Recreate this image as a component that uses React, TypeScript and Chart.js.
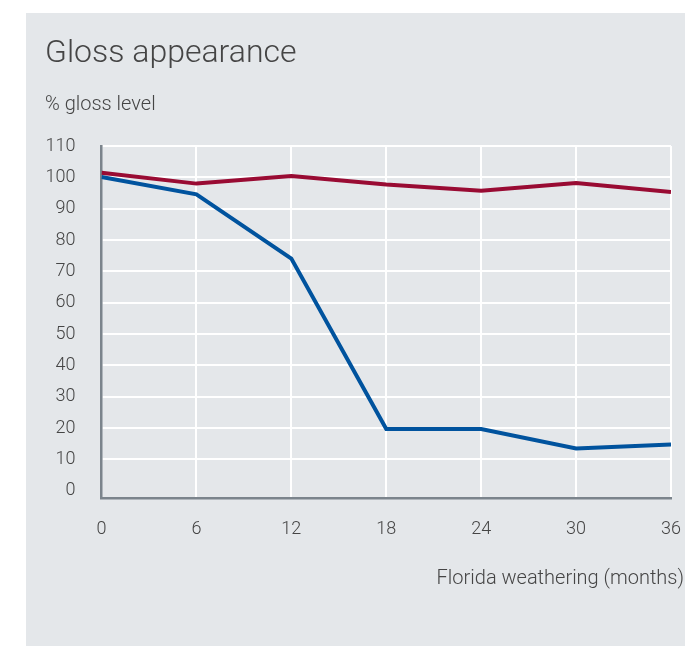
import React, { useEffect, useRef } from "react";
import { Chart, registerables } from "chart.js";

Chart.register(...registerables);

const months = [0, 6, 12, 18, 24, 30, 36];
const redSeries = [101.5, 98, 100.4, 97.7, 95.7, 98.2, 95.3];
const blueSeries = [100.1, 94.6, 74.1, 19.7, 19.7, 13.5, 14.8];
const yTicks = [0, 10, 20, 30, 40, 50, 60, 70, 80, 90, 100, 110];
const titleText = "Gloss appearance";
const yTitleText = "% gloss level";
const xTitleText = "Florida weathering (months)";

const FONT = "Roboto";
const TEXT = "#454545";

const textPlugin = {
  id: "panelTexts",
  afterDraw(chart: any) {
    const ctx = chart.ctx;
    const area = chart.chartArea;
    ctx.save();
    ctx.fillStyle = TEXT;
    ctx.textBaseline = "alphabetic";
    ctx.textAlign = "left";
    ctx.font = `300 32px ${FONT}`;
    ctx.fillText(titleText, 19, 49);
    ctx.font = `300 20px ${FONT}`;
    ctx.fillText(yTitleText, 19, 97);
    ctx.textAlign = "right";
    ctx.font = `300 20px ${FONT}`;
    ctx.fillText(xTitleText, area.right + 13, area.bottom + 86);
    ctx.restore();
  },
};

export default function App() {
  const ref = useRef<HTMLCanvasElement | null>(null);
  useEffect(() => {
    if (!ref.current) return;
    const chart = new Chart(ref.current, {
      type: "line",
      data: {
        datasets: [
          {
            data: months.map((m, i) => ({ x: m, y: redSeries[i] })),
            borderColor: "#990b33",
            borderWidth: 4,
            pointRadius: 0,
            fill: false,
            tension: 0,
          },
          {
            data: months.map((m, i) => ({ x: m, y: blueSeries[i] })),
            borderColor: "#00539e",
            borderWidth: 4,
            pointRadius: 0,
            fill: false,
            tension: 0,
          },
        ],
      },
      options: {
        animation: false,
        responsive: false,
        maintainAspectRatio: false,
        layout: { padding: { left: 20, top: 133, right: 22, bottom: 104 } },
        plugins: {
          legend: { display: false },
          tooltip: { enabled: false },
          title: { display: false },
        },
        scales: {
          x: {
            type: "linear",
            min: 0,
            max: 36,
            afterBuildTicks: (axis: any) => {
              axis.ticks = months.map((v) => ({ value: v }));
            },
            afterFit: (axis: any) => {
              axis.height = 44;
              axis.paddingLeft = 0;
              axis.paddingRight = 0;
            },
            grid: {
              color: (c: any) => (c.tick && c.tick.value === 0 ? "rgba(0,0,0,0)" : "#ffffff"),
              lineWidth: 2,
              drawTicks: false,
            },
            border: { color: "#7b848c", width: 2.5 },
            ticks: {
              padding: 21,
              color: TEXT,
              font: { family: FONT, size: 18, weight: "300" },
              maxRotation: 0,
            },
          },
          y: {
            type: "linear",
            min: -2.3,
            max: 110,
            afterBuildTicks: (axis: any) => {
              axis.ticks = yTicks.map((v) => ({ value: v }));
            },
            afterFit: (axis: any) => {
              axis.width = 55.5;
              axis.paddingTop = 0;
              axis.paddingBottom = 0;
            },
            grid: {
              color: (c: any) => (c.tick && c.tick.value === 0 ? "rgba(0,0,0,0)" : "#ffffff"),
              lineWidth: 2,
              drawTicks: false,
            },
            border: { color: "#7b848c", width: 2.5 },
            ticks: {
              padding: 26,
              color: TEXT,
              font: { family: FONT, size: 18, weight: "300" },
            },
          },
        },
      },
      plugins: [textPlugin],
    } as any);
    return () => chart.destroy();
  }, []);
  return (
    <div
      style={{
        marginLeft: 18,
        marginTop: 5,
        width: 667,
        height: 633,
        background: "#e4e7ea",
      }}
    >
      <canvas ref={ref} width={667} height={633} style={{ display: "block" }} />
    </div>
  );
}
